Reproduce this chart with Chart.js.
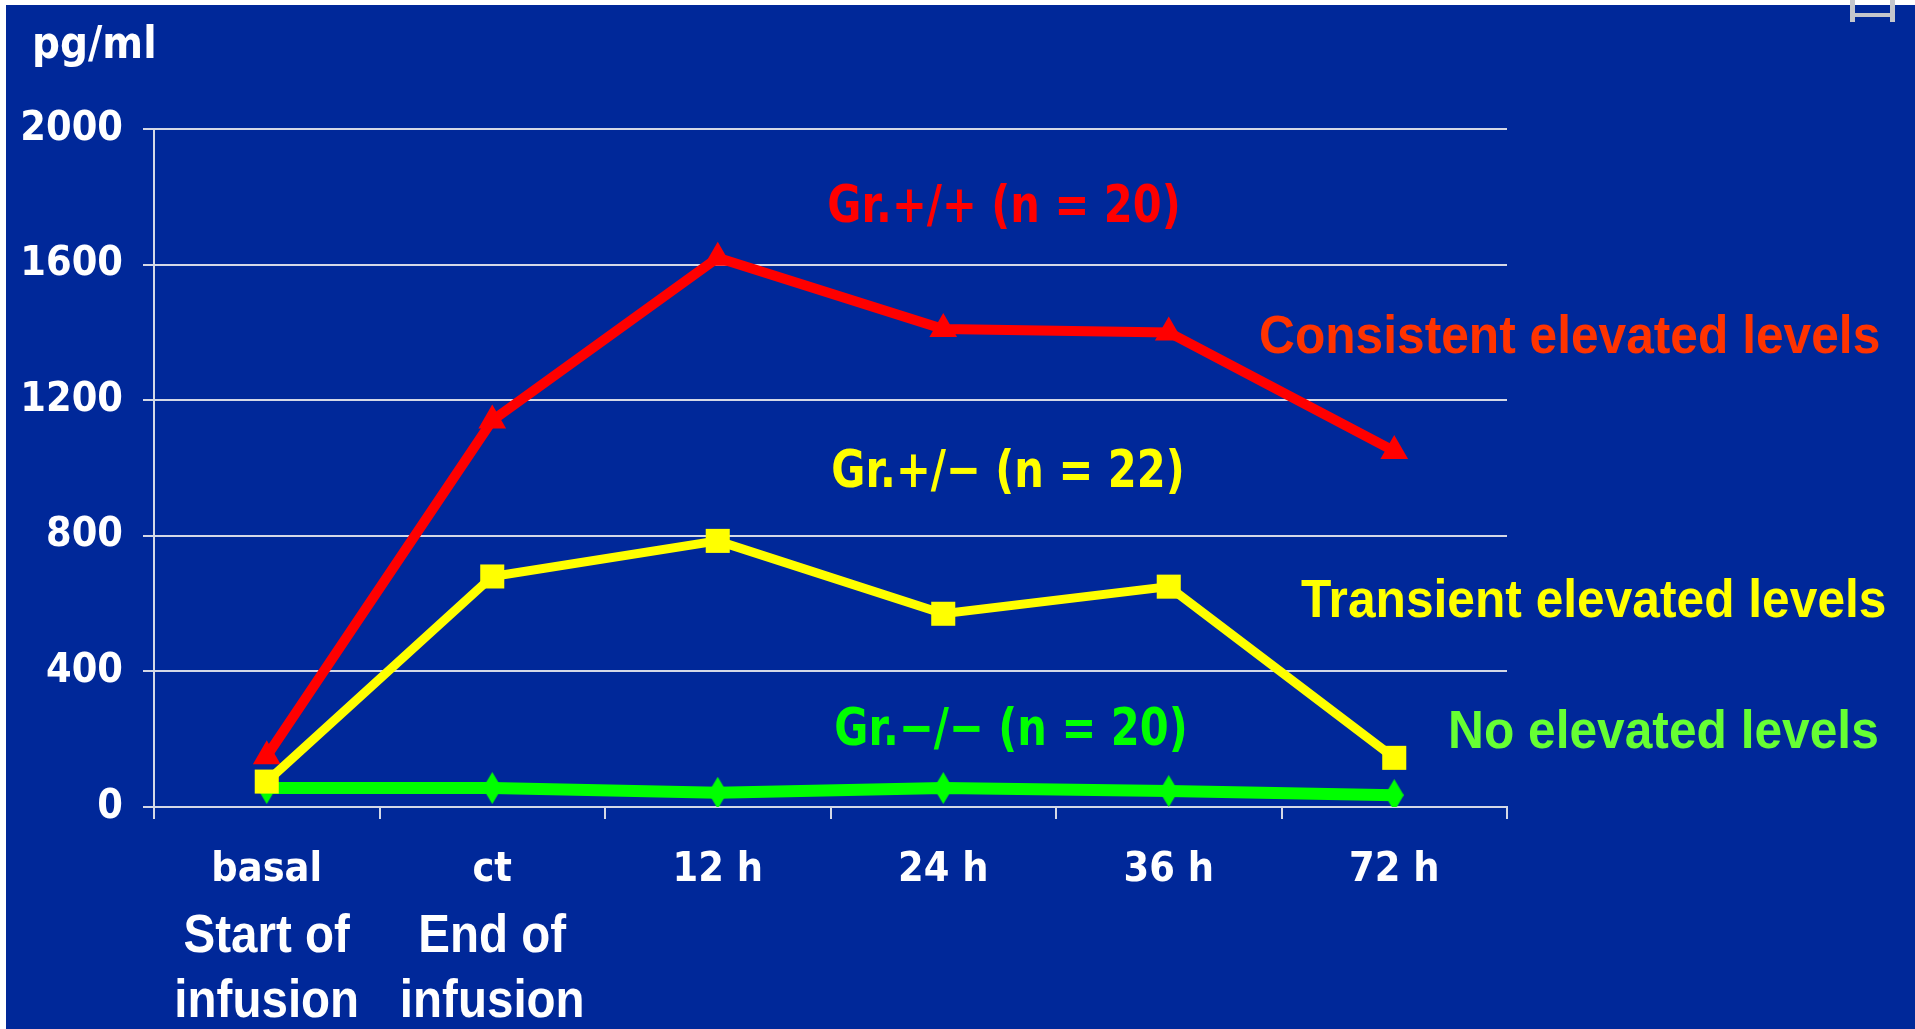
<!DOCTYPE html>
<html>
<head>
<meta charset="utf-8">
<title>pg/ml</title>
<script src="https://cdn.jsdelivr.net/npm/chart.js@4.4.1/dist/chart.umd.min.js"></script>
<style>
  html, body { margin: 0; padding: 0; background: #fff; overflow: hidden; }
  #wrap { position: relative; width: 1915px; height: 1029px; }
</style>
</head>
<body>
<div id="wrap"><canvas id="chart"></canvas></div>
<script>
// time points and the two-line notes under the first two
const timepoints = ['basal', 'ct', '12 h', '24 h', '36 h', '72 h'];
const phaseNotes = [['Start of', 'infusion'], ['End of', 'infusion'], [], [], [], []];
const yTickValues = [0, 400, 800, 1200, 1600, 2000];

const groupNames = ['Gr.+/+ (n = 20)', 'Gr.+/\u2212 (n = 22)', 'Gr.\u2212/\u2212 (n = 20)'];
const trendNames = ['Consistent elevated levels', 'Transient elevated levels', 'No elevated levels'];

// pg/ml per group
const grPlusPlus = [150, 1140, 1620, 1410, 1400, 1050];
const grPlusMinus = [75, 680, 785, 570, 650, 145];
const grMinusMinus = [56, 56, 42, 56, 47, 35];

const BLUE = '#002899';
const GRID = '#d4d8e6';

// tall thin diamond for the green series
const diamond = document.createElement('canvas');
diamond.width = 19;
diamond.height = 32;
(function () {
  const c = diamond.getContext('2d');
  c.fillStyle = '#00ff00';
  c.beginPath();
  c.moveTo(9.5, 0);
  c.lineTo(19, 16);
  c.lineTo(9.5, 32);
  c.lineTo(0, 16);
  c.closePath();
  c.fill();
})();

function scaledText(ctx, text, x, y, font, color, sx, align) {
  ctx.save();
  ctx.font = font;
  ctx.fillStyle = color;
  ctx.textBaseline = 'alphabetic';
  ctx.textAlign = align;
  ctx.translate(x, y);
  ctx.scale(sx, 1);
  ctx.fillText(text, 0, 0);
  ctx.restore();
}

const backdrop = {
  id: 'backdrop',
  beforeDraw(chart) {
    const ctx = chart.ctx;
    ctx.save();
    ctx.fillStyle = '#fff';
    ctx.fillRect(0, 0, chart.width, chart.height);
    ctx.fillStyle = BLUE;
    ctx.fillRect(6, 5, chart.width - 6, chart.height - 5);
    // little grey handle in the top right corner
    ctx.fillStyle = '#c4c6cc';
    ctx.fillRect(1850, 0, 5, 22);
    ctx.fillRect(1890, 0, 5, 22);
    ctx.fillRect(1850, 13, 45, 4);
    ctx.restore();
  }
};

const notes = {
  id: 'notes',
  afterDraw(chart) {
    const ctx = chart.ctx;
    const xs = chart.scales.x;

    scaledText(ctx, 'pg/ml', 32, 58, 'bold 44px "DejaVu Sans"', '#fff', 0.89, 'left');

    const groupPos = [[1004, 222], [1008, 487], [1011, 745]];
    const groupCol = ['#ff0000', '#ffff00', '#00ff00'];
    groupNames.forEach((t, i) => {
      scaledText(ctx, t, groupPos[i][0], groupPos[i][1], 'bold 52px "DejaVu Sans"', groupCol[i], 0.8, 'center');
    });

    const trendPos = [[1259, 353], [1301, 617], [1448, 748]];
    const trendCol = ['#ff3300', '#ffff00', '#66ff33'];
    trendNames.forEach((t, i) => {
      scaledText(ctx, t, trendPos[i][0], trendPos[i][1], 'bold 54px "Liberation Sans"', trendCol[i], 0.92, 'left');
    });

    const baselines = [952, 1017];
    phaseNotes.forEach((lines, i) => {
      const x = xs.getPixelForValue(i);
      lines.forEach((t, j) => {
        scaledText(ctx, t, x, baselines[j], 'bold 54px "Liberation Sans"', '#fff', 0.88, 'center');
      });
    });
  }
};

new Chart(document.getElementById('chart'), {
  type: 'line',
  data: {
    labels: timepoints,
    datasets: [
      {
        label: groupNames[1],
        data: grPlusMinus,
        borderColor: '#ffff00',
        backgroundColor: '#ffff00',
        borderWidth: 9,
        pointStyle: 'rect',
        pointRadius: 17,
        pointBorderWidth: 0,
        tension: 0
      },
      {
        label: groupNames[0],
        data: grPlusPlus,
        borderColor: '#ff0000',
        backgroundColor: '#ff0000',
        borderWidth: 10,
        pointStyle: 'triangle',
        pointRadius: 16,
        pointBorderWidth: 0,
        tension: 0
      },
      {
        label: groupNames[2],
        data: grMinusMinus,
        borderColor: '#00ff00',
        backgroundColor: '#00ff00',
        borderWidth: 12,
        pointStyle: diamond,
        pointRadius: 16,
        tension: 0
      }
    ]
  },
  options: {
    responsive: true,
    maintainAspectRatio: false,
    animation: false,
    events: [],
    layout: { padding: { top: 129, right: 408, left: 0, bottom: 0 } },
    plugins: { legend: { display: false }, tooltip: { enabled: false } },
    scales: {
      x: {
        offset: true,
        afterFit(s) { s.height = 222; },
        grid: { offset: true, drawOnChartArea: false, color: GRID, lineWidth: 2, tickLength: 12 },
        border: { color: GRID, width: 2 },
        ticks: {
          color: '#fff',
          padding: 27,
          font: { family: '"DejaVu Sans Condensed", "DejaVu Sans"', weight: 'bold', size: 41 }
        }
      },
      y: {
        min: 0,
        max: 2000,
        afterFit(s) { s.width = 154; },
        afterBuildTicks(s) { s.ticks = yTickValues.map(v => ({ value: v })); },
        grid: { color: GRID, lineWidth: 2, tickLength: 11 },
        border: { color: GRID, width: 2 },
        ticks: {
          color: '#fff',
          padding: 20,
          callback: v => String(v),
          font: { family: '"DejaVu Sans Condensed", "DejaVu Sans"', weight: 'bold', size: 41 }
        }
      }
    }
  },
  plugins: [backdrop, notes]
});
</script>
</body>
</html>
